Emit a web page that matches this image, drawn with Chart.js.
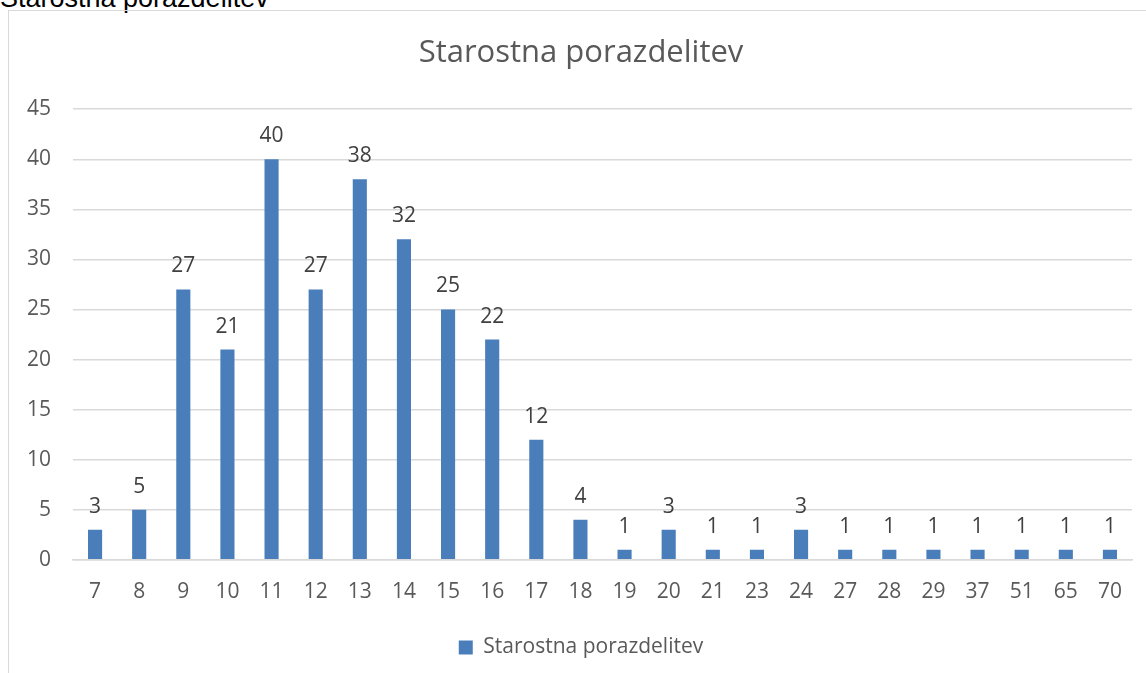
<!DOCTYPE html>
<html>
<head>
<meta charset="utf-8">
<script src="https://cdn.jsdelivr.net/npm/chart.js@4.4.0/dist/chart.umd.min.js"></script>
<style>
  html, body { margin:0; padding:0; width:1146px; height:673px; overflow:hidden; background:#fff; }
  #top { position:absolute; left:0; top:-17px; font-family:"Liberation Sans", Arial, sans-serif; font-size:27px; color:#000; white-space:nowrap; }
  #frame { position:absolute; left:8px; top:10px; width:1200px; height:700px; border:1px solid #d9d9d9; pointer-events:none; }
  #wrap { position:absolute; left:0; top:0; width:1146px; height:673px; }
</style>
</head>
<body>
<div id="top">Starostna porazdelitev</div>
<div id="frame"></div>
<div id="wrap"><canvas id="c" width="1146" height="673"></canvas></div>
<script>
const chartTitle = "Starostna porazdelitev";
const seriesName = "Starostna porazdelitev";
const categories = ["7","8","9","10","11","12","13","14","15","16","17","18","19","20","21","23","24","27","28","29","37","51","65","70"];
const values = [3,5,27,21,40,27,38,32,25,22,12,4,1,3,1,1,3,1,1,1,1,1,1,1];
const yTicks = [0,5,10,15,20,25,30,35,40,45];

const FONT = "'Open Sans', sans-serif";
const labelPlugin = {
  id: 'valueLabels',
  afterDatasetsDraw(chart) {
    const ctx = chart.ctx;
    const meta = chart.getDatasetMeta(0);
    ctx.save();
    ctx.font = "21px " + FONT;
    ctx.fillStyle = "#404040";
    ctx.textAlign = "center";
    ctx.textBaseline = "alphabetic";
    meta.data.forEach((el, i) => {
      ctx.fillText(String(values[i]), el.x, el.y - 17);
    });
    ctx.restore();
  }
};

new Chart(document.getElementById('c'), {
  type: 'bar',
  data: {
    labels: categories,
    datasets: [{
      label: seriesName,
      data: values,
      yAxisID: 'y',
      backgroundColor: '#4a7ebb',
      borderWidth: 0,
      barPercentage: 0.32,
      categoryPercentage: 1.0
    }]
  },
  options: {
    responsive: false,
    animation: false,
    devicePixelRatio: 1,
    layout: { padding: { top: 25, left: 24, right: 8, bottom: 5 } },
    plugins: {
      title: {
        display: true,
        text: chartTitle,
        color: '#595959',
        font: { family: FONT, size: 31, weight: 'normal' },
        padding: { top: 10, bottom: 37 }
      },
      legend: {
        display: true,
        position: 'bottom',
        labels: {
          color: '#595959',
          font: { family: FONT, size: 21 },
          boxWidth: 14,
          boxHeight: 14,
          padding: 12
        }
      },
      tooltip: { enabled: false }
    },
    scales: {
      x: {
        grid: { display: false, drawTicks: false },
        border: { display: true, color: '#d9d9d9', width: 1.5 },
        ticks: { color: '#595959', font: { family: FONT, size: 21 }, padding: 20, maxRotation: 0, autoSkip: false }
      },
      y: {
        min: 0, max: 45,
        afterBuildTicks(axis) { axis.ticks = yTicks.map(v => ({ value: v })); },
        afterFit(axis) { axis.width = 49; },
        grid: { color: '#d9d9d9', lineWidth: 1.5, drawTicks: false },
        border: { display: false },
        ticks: { color: '#595959', font: { family: FONT, size: 21 }, padding: 22 }
      },
      yRightSpacer: {
        position: 'right',
        display: true,
        min: 0, max: 45,
        afterFit(axis) { axis.width = 6; },
        grid: { display: false, drawTicks: false },
        border: { display: false },
        ticks: { display: false }
      }
    }
  },
  plugins: [labelPlugin]
});
</script>
</body>
</html>
